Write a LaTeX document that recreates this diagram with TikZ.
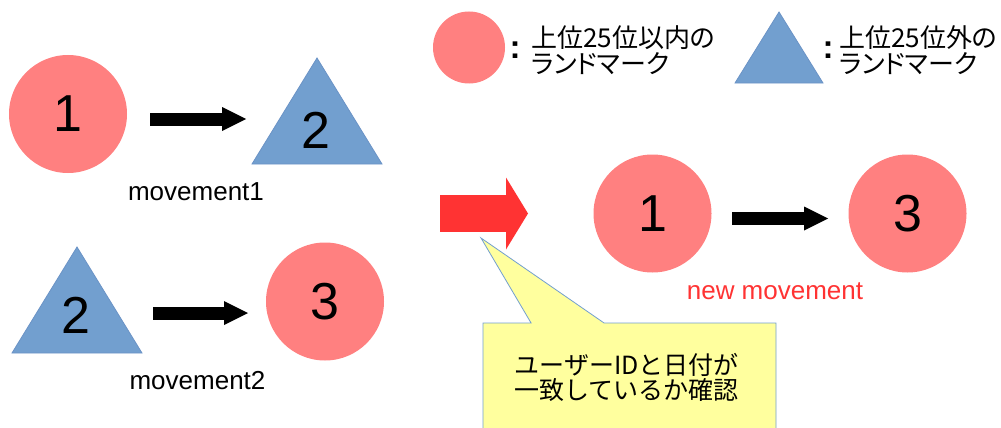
\documentclass[tikz,border=0pt]{standalone}
\usepackage{fontspec}
\setmainfont{Liberation Sans}
\newfontfamily\jp{Noto Sans CJK JP}
\newfontfamily\jpp[RawFeature=+palt]{Noto Sans CJK JP}
\usetikzlibrary{arrows.meta,shapes.callouts}
\definecolor{pinkc}{HTML}{FF8080}
\definecolor{bluec}{HTML}{729FCF}
\definecolor{bluee}{HTML}{6B93C6}
\definecolor{redc}{HTML}{FF3333}
\definecolor{yel}{HTML}{FFFF9E}
\begin{document}
\begin{tikzpicture}[x=1pt,y=-1pt,
  circ/.style={circle, fill=pinkc, minimum size=118pt, inner sep=0pt, font=\fontsize{52}{52}\selectfont},
  tri/.style={fill=bluec, draw=bluee, line width=0.8pt},
  num/.style={font=\fontsize{52}{52}\selectfont, inner sep=0pt},
  blk/.style={line width=13pt, -{Triangle[length=24pt,width=24pt,line width=0pt]}},
  lbl/.style={font=\fontsize{26}{26}\selectfont, anchor=base, inner sep=0pt},
  colon/.style={font=\bfseries\fontsize{33}{33}\selectfont, inner sep=0pt},
  legendtext/.style={font=\jpp\fontsize{26}{26}\selectfont, align=left, anchor=west, inner sep=0pt},
]
\useasboundingbox (0,0) rectangle (1001,428);
% left top
\node[circ] (c1) at (68,114) {1};
\path[tri] (252,164) -- (317,58) -- (382,164) -- cycle;
\node[num] (t1) at (316,130) {2};
\coordinate (a1s) at (150,119);
\coordinate (a1e) at (246,119);
\draw[blk] (a1s) -- (a1e);
\node[lbl] (m1) at (196,200) {movement1};
% left bottom
\path[tri] (12,353) -- (77,247) -- (142,353) -- cycle;
\node[num] (t2) at (76,315) {2};
\node[circ] (c3) at (325,301.5) {3};
\coordinate (a2s) at (153,313);
\coordinate (a2e) at (248,313);
\draw[blk] (a2s) -- (a2e);
\node[lbl] (m2) at (197.5,389) {movement2};
% red arrow
\coordinate (rs) at (440,213.5);
\coordinate (re) at (528,213.5);
\draw[redc, line width=37pt, -{Triangle[length=22pt,width=72pt,line width=0pt]}] (rs) -- (re);
% right
\node[circ] (n1) at (652.5,213.5) {1};
\node[circ] (n3) at (907.5,213.5) {3};
\coordinate (a3s) at (732,218.5);
\coordinate (a3e) at (828,218.5);
\draw[blk] (a3s) -- (a3e);
\node[lbl, text=redc] (nm) at (775,299) {new movement};
% callout
\node[rectangle callout, fill=yel, draw=bluec, line width=0.8pt, minimum width=293pt, minimum height=122pt, inner sep=0pt, callout absolute pointer={(481,238)}, callout pointer width=73pt] (co) at (629.5,384) {};
\node[font=\jp\fontsize{25}{25}\selectfont, align=center, inner sep=0pt] (cot) at (626.5,377.5) {ユーザーIDと日付が\\一致しているか確認};
% legend
\node[circ, minimum size=72pt] (lc) at (469,47.5) {};
\node[colon] (k1) at (515,50) {:};
\node[legendtext] (l1) at (531,50) {上位25位以内の\\ランドマーク};
\path[tri] (735,83) -- (779,12) -- (823,83) -- cycle;
\node[colon] (k2) at (828,50) {:};
\node[legendtext] (l2) at (839,50) {上位25位外の\\ランドマーク};
\end{tikzpicture}
\end{document}
